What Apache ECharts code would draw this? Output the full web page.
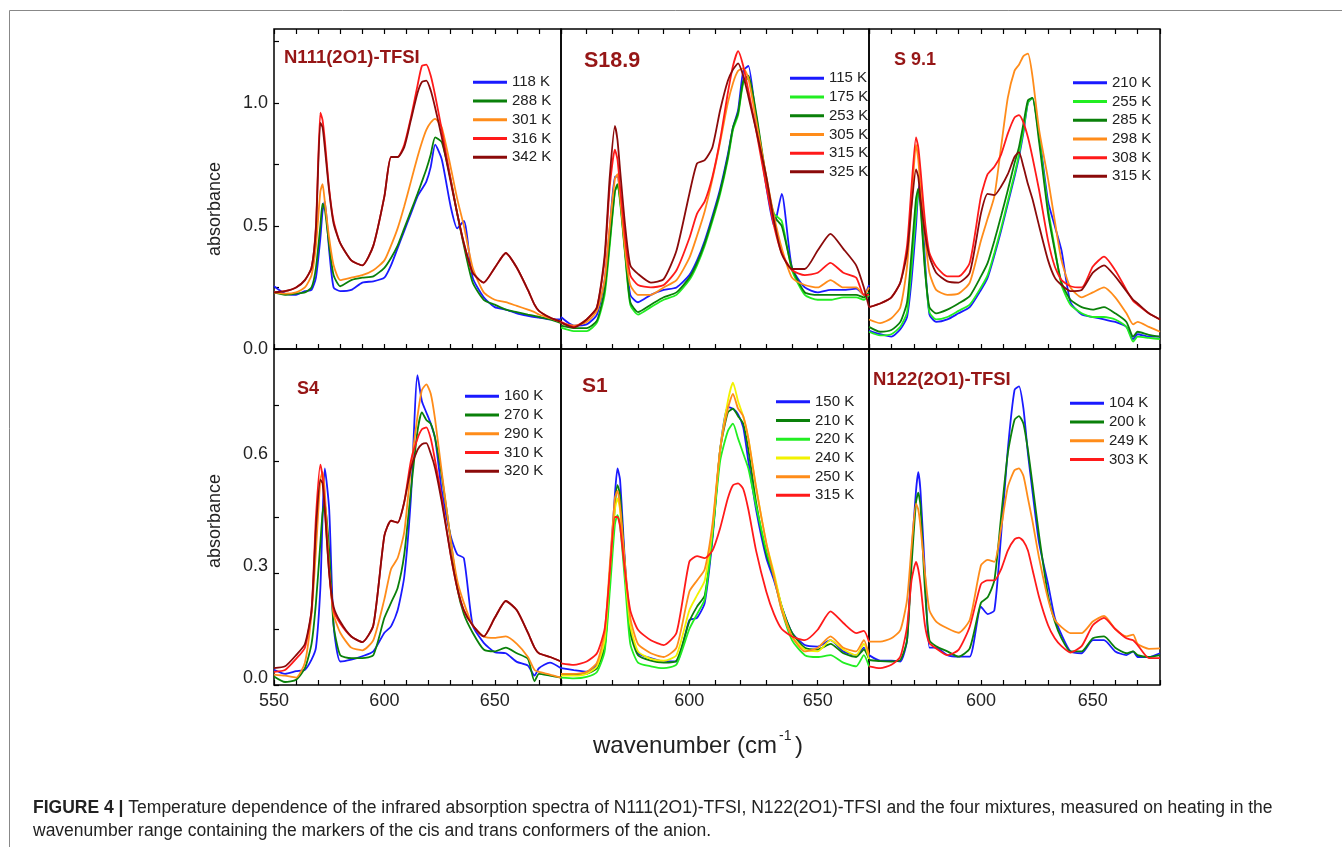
<!DOCTYPE html>
<html lang="en">
<head>
<meta charset="UTF-8">
<title>Figure 4 - IR absorption spectra</title>
<script src="https://cdn.jsdelivr.net/npm/echarts@6.0.0/dist/echarts.min.js"></script>
<style>
  html, body { margin: 0; padding: 0; background: #fff; }
  #main { width: 1342px; height: 847px; }
</style>
</head>
<body>
<div id="main"></div>
<script>
// wavenumber grid (cm-1), shared by all six panels
const wavenumber = [550, 555, 560, 564, 567, 569, 571, 572, 573, 575, 577, 580, 585, 590, 595, 600, 603, 606, 609, 612,
  615, 617, 619, 621, 623, 626, 630, 633, 636, 640, 645, 650, 655, 660, 665, 668, 670, 675, 680];

// N111(2O1)-TFSI
const n111Temps = ['118 K', '288 K', '301 K', '316 K', '342 K'];
const n111_118 = [0.255, 0.225, 0.22, 0.235, 0.24, 0.29, 0.45, 0.56, 0.60, 0.40, 0.25, 0.235, 0.24, 0.27, 0.275, 0.29, 0.34, 0.41, 0.48, 0.55,
  0.62, 0.65, 0.68, 0.74, 0.83, 0.77, 0.58, 0.49, 0.52, 0.29, 0.21, 0.17, 0.16, 0.145, 0.135, 0.13, 0.128, 0.12, 0.12];
const n111_288 = [0.23, 0.22, 0.225, 0.23, 0.25, 0.33, 0.50, 0.59, 0.57, 0.42, 0.30, 0.255, 0.28, 0.29, 0.295, 0.33, 0.37, 0.42, 0.49, 0.56,
  0.63, 0.68, 0.73, 0.79, 0.86, 0.84, 0.69, 0.55, 0.42, 0.27, 0.20, 0.18, 0.16, 0.15, 0.14, 0.135, 0.13, 0.12, 0.105];
const n111_301 = [0.23, 0.225, 0.23, 0.25, 0.30, 0.42, 0.64, 0.67, 0.60, 0.45, 0.34, 0.28, 0.29, 0.30, 0.32, 0.36, 0.42, 0.49, 0.58, 0.68,
  0.78, 0.84, 0.89, 0.92, 0.935, 0.90, 0.74, 0.61, 0.50, 0.33, 0.23, 0.20, 0.19, 0.175, 0.16, 0.15, 0.14, 0.125, 0.11];
const n111_316 = [0.23, 0.235, 0.25, 0.28, 0.33, 0.50, 0.96, 0.93, 0.85, 0.65, 0.52, 0.43, 0.36, 0.34, 0.42, 0.62, 0.78, 0.78, 0.83, 0.94,
  1.07, 1.15, 1.155, 1.11, 1.03, 0.89, 0.69, 0.55, 0.43, 0.31, 0.27, 0.33, 0.39, 0.33, 0.24, 0.18, 0.155, 0.128, 0.11];
const n111_342 = [0.23, 0.235, 0.25, 0.28, 0.33, 0.49, 0.92, 0.90, 0.82, 0.64, 0.51, 0.43, 0.36, 0.34, 0.42, 0.62, 0.78, 0.78, 0.82, 0.93,
  1.04, 1.085, 1.09, 1.05, 0.98, 0.86, 0.68, 0.55, 0.43, 0.31, 0.27, 0.33, 0.39, 0.33, 0.24, 0.18, 0.155, 0.128, 0.11];

// S18.9 (ends at 670)
const s189Temps = ['115 K', '175 K', '253 K', '305 K', '315 K', '325 K'];
const s189_115 = [0.13, 0.095, 0.10, 0.14, 0.28, 0.49, 0.70, 0.70, 0.63, 0.40, 0.22, 0.19, 0.22, 0.24, 0.25, 0.30, 0.36, 0.44, 0.54, 0.65,
  0.79, 0.90, 0.97, 1.13, 1.15, 0.93, 0.66, 0.50, 0.63, 0.33, 0.25, 0.23, 0.24, 0.24, 0.245, 0.22, 0.26, null, null];
const s189_175 = [0.087, 0.073, 0.073, 0.107, 0.22, 0.42, 0.64, 0.66, 0.60, 0.38, 0.18, 0.14, 0.17, 0.20, 0.22, 0.28, 0.34, 0.42, 0.52, 0.63,
  0.77, 0.89, 0.95, 1.08, 1.10, 0.95, 0.68, 0.55, 0.52, 0.32, 0.22, 0.20, 0.20, 0.21, 0.21, 0.20, 0.22, null, null];
const s189_253 = [0.095, 0.085, 0.085, 0.115, 0.24, 0.44, 0.64, 0.67, 0.61, 0.39, 0.19, 0.15, 0.18, 0.21, 0.23, 0.29, 0.35, 0.43, 0.53, 0.64,
  0.78, 0.90, 0.96, 1.09, 1.11, 0.96, 0.69, 0.54, 0.50, 0.33, 0.23, 0.22, 0.22, 0.22, 0.22, 0.21, 0.23, null, null];
const s189_305 = [0.105, 0.095, 0.11, 0.155, 0.28, 0.50, 0.69, 0.71, 0.62, 0.40, 0.26, 0.22, 0.22, 0.25, 0.28, 0.37, 0.46, 0.56, 0.69, 0.84,
  1.00, 1.08, 1.13, 1.14, 1.10, 0.93, 0.70, 0.54, 0.41, 0.29, 0.26, 0.25, 0.28, 0.25, 0.25, 0.22, 0.25, null, null];
const s189_315 = [0.11, 0.09, 0.12, 0.17, 0.36, 0.66, 0.81, 0.77, 0.66, 0.45, 0.30, 0.26, 0.25, 0.26, 0.32, 0.45, 0.55, 0.60, 0.70, 0.85,
  1.04, 1.15, 1.21, 1.15, 1.05, 0.89, 0.66, 0.50, 0.39, 0.32, 0.30, 0.31, 0.35, 0.31, 0.29, 0.22, 0.22, null, null];
const s189_325 = [0.107, 0.087, 0.12, 0.17, 0.38, 0.70, 0.906, 0.85, 0.73, 0.50, 0.34, 0.305, 0.27, 0.284, 0.40, 0.63, 0.754, 0.767, 0.82, 0.97,
  1.09, 1.135, 1.16, 1.11, 1.026, 0.89, 0.70, 0.52, 0.386, 0.325, 0.325, 0.40, 0.468, 0.407, 0.34, 0.25, 0.17, null, null];

// S 9.1
const s91Temps = ['210 K', '255 K', '285 K', '298 K', '308 K', '315 K'];
const s91_210 = [0.075, 0.06, 0.05, 0.08, 0.13, 0.28, 0.50, 0.64, 0.68, 0.36, 0.14, 0.11, 0.12, 0.145, 0.17, 0.24, 0.29, 0.38, 0.48, 0.59,
  0.70, 0.78, 0.88, 1.00, 1.02, 0.87, 0.60, 0.50, 0.40, 0.19, 0.14, 0.13, 0.12, 0.11, 0.09, 0.04, 0.06, 0.05, 0.05];
const s91_255 = [0.07, 0.055, 0.06, 0.09, 0.15, 0.33, 0.55, 0.64, 0.60, 0.33, 0.15, 0.12, 0.13, 0.155, 0.18, 0.25, 0.30, 0.39, 0.49, 0.60,
  0.71, 0.79, 0.89, 1.00, 1.02, 0.86, 0.57, 0.41, 0.26, 0.18, 0.145, 0.13, 0.13, 0.12, 0.09, 0.03, 0.05, 0.045, 0.04];
const s91_285 = [0.09, 0.07, 0.077, 0.11, 0.19, 0.39, 0.61, 0.65, 0.58, 0.32, 0.17, 0.145, 0.16, 0.185, 0.215, 0.295, 0.35, 0.44, 0.54, 0.645,
  0.755, 0.82, 0.915, 1.01, 1.02, 0.84, 0.55, 0.40, 0.27, 0.20, 0.17, 0.16, 0.17, 0.145, 0.11, 0.05, 0.07, 0.057, 0.05];
const s91_298 = [0.12, 0.105, 0.125, 0.17, 0.335, 0.59, 0.83, 0.77, 0.66, 0.46, 0.31, 0.24, 0.22, 0.225, 0.27, 0.44, 0.53, 0.62, 0.82, 1.02,
  1.13, 1.155, 1.19, 1.20, 1.11, 0.89, 0.69, 0.52, 0.36, 0.25, 0.21, 0.23, 0.25, 0.21, 0.145, 0.10, 0.11, 0.09, 0.07];
const s91_308 = [0.17, 0.185, 0.21, 0.27, 0.42, 0.66, 0.86, 0.82, 0.73, 0.52, 0.39, 0.335, 0.295, 0.295, 0.35, 0.62, 0.71, 0.74, 0.79, 0.875,
  0.94, 0.95, 0.92, 0.86, 0.78, 0.645, 0.44, 0.335, 0.28, 0.255, 0.25, 0.335, 0.375, 0.32, 0.24, 0.195, 0.18, 0.145, 0.12];
const s91_315 = [0.17, 0.185, 0.21, 0.27, 0.39, 0.58, 0.73, 0.70, 0.61, 0.47, 0.375, 0.31, 0.275, 0.27, 0.31, 0.55, 0.63, 0.625, 0.66, 0.71,
  0.78, 0.80, 0.74, 0.67, 0.61, 0.50, 0.36, 0.29, 0.26, 0.235, 0.24, 0.31, 0.34, 0.295, 0.235, 0.20, 0.185, 0.145, 0.12];

// S4
const s4Temps = ['160 K', '270 K', '290 K', '310 K', '320 K'];
const s4_160 = [0.041, 0.03, 0.037, 0.041, 0.068, 0.10, 0.26, 0.45, 0.58, 0.47, 0.16, 0.063, 0.068, 0.077, 0.09, 0.14, 0.157, 0.20, 0.29, 0.50,
  0.83, 0.76, 0.73, 0.70, 0.66, 0.52, 0.40, 0.35, 0.34, 0.16, 0.113, 0.088, 0.085, 0.062, 0.052, 0.025, 0.045, 0.06, 0.045];
const s4_270 = [0.023, 0.008, 0.014, 0.045, 0.11, 0.22, 0.38, 0.46, 0.49, 0.36, 0.16, 0.08, 0.072, 0.072, 0.08, 0.18, 0.22, 0.26, 0.35, 0.52,
  0.68, 0.73, 0.71, 0.70, 0.66, 0.56, 0.39, 0.26, 0.19, 0.14, 0.095, 0.09, 0.10, 0.085, 0.07, 0.01, 0.03, 0.025, 0.02];
const s4_290 = [0.028, 0.025, 0.02, 0.06, 0.19, 0.36, 0.55, 0.57, 0.52, 0.31, 0.19, 0.14, 0.10, 0.093, 0.12, 0.23, 0.31, 0.34, 0.41, 0.58,
  0.72, 0.79, 0.805, 0.78, 0.71, 0.57, 0.39, 0.28, 0.22, 0.16, 0.13, 0.126, 0.13, 0.11, 0.075, 0.04, 0.035, 0.028, 0.02];
const s4_310 = [0.035, 0.04, 0.07, 0.10, 0.20, 0.45, 0.59, 0.56, 0.48, 0.30, 0.20, 0.165, 0.13, 0.115, 0.16, 0.40, 0.44, 0.435, 0.49, 0.60,
  0.66, 0.685, 0.69, 0.66, 0.60, 0.50, 0.35, 0.26, 0.20, 0.16, 0.13, 0.18, 0.225, 0.20, 0.14, 0.10, 0.085, 0.075, 0.063];
const s4_320 = [0.045, 0.05, 0.08, 0.11, 0.20, 0.42, 0.55, 0.54, 0.47, 0.30, 0.21, 0.17, 0.13, 0.115, 0.16, 0.40, 0.44, 0.435, 0.49, 0.58,
  0.63, 0.645, 0.648, 0.62, 0.58, 0.49, 0.35, 0.26, 0.20, 0.16, 0.13, 0.18, 0.225, 0.20, 0.14, 0.10, 0.085, 0.075, 0.063];

// S1 (ends at 670)
const s1Temps = ['150 K', '210 K', '220 K', '240 K', '250 K', '315 K'];
const s1_150 = [0.045, 0.04, 0.036, 0.054, 0.10, 0.30, 0.51, 0.58, 0.55, 0.32, 0.15, 0.085, 0.072, 0.063, 0.063, 0.174, 0.18, 0.22, 0.39, 0.63,
  0.745, 0.74, 0.725, 0.69, 0.60, 0.47, 0.34, 0.28, 0.21, 0.14, 0.107, 0.103, 0.12, 0.09, 0.08, 0.10, 0.072, null, null];
const s1_210 = [0.03, 0.028, 0.03, 0.045, 0.10, 0.28, 0.48, 0.535, 0.51, 0.31, 0.14, 0.08, 0.065, 0.06, 0.065, 0.17, 0.21, 0.24, 0.40, 0.63,
  0.73, 0.74, 0.72, 0.70, 0.63, 0.49, 0.35, 0.29, 0.21, 0.14, 0.10, 0.095, 0.11, 0.085, 0.075, 0.095, 0.07, null, null];
const s1_220 = [0.02, 0.018, 0.022, 0.035, 0.09, 0.25, 0.43, 0.455, 0.43, 0.27, 0.11, 0.06, 0.05, 0.045, 0.055, 0.15, 0.19, 0.23, 0.40, 0.60,
  0.68, 0.70, 0.66, 0.62, 0.58, 0.48, 0.36, 0.29, 0.20, 0.12, 0.08, 0.075, 0.08, 0.06, 0.05, 0.08, 0.05, null, null];
const s1_240 = [0.025, 0.025, 0.03, 0.05, 0.12, 0.30, 0.47, 0.50, 0.47, 0.30, 0.16, 0.09, 0.07, 0.065, 0.08, 0.20, 0.24, 0.28, 0.42, 0.63,
  0.76, 0.81, 0.76, 0.72, 0.66, 0.53, 0.38, 0.30, 0.21, 0.13, 0.095, 0.09, 0.12, 0.095, 0.08, 0.11, 0.07, null, null];
const s1_250 = [0.03, 0.03, 0.035, 0.06, 0.14, 0.32, 0.50, 0.52, 0.48, 0.32, 0.18, 0.11, 0.085, 0.075, 0.10, 0.25, 0.28, 0.31, 0.43, 0.63,
  0.74, 0.78, 0.74, 0.72, 0.66, 0.53, 0.38, 0.29, 0.20, 0.13, 0.09, 0.10, 0.13, 0.10, 0.09, 0.12, 0.08, null, null];
const s1_315 = [0.058, 0.054, 0.063, 0.085, 0.15, 0.30, 0.45, 0.45, 0.425, 0.30, 0.20, 0.148, 0.12, 0.107, 0.14, 0.33, 0.345, 0.34, 0.36, 0.42,
  0.50, 0.535, 0.54, 0.525, 0.47, 0.36, 0.25, 0.19, 0.15, 0.13, 0.12, 0.148, 0.197, 0.166, 0.139, 0.145, 0.116, null, null];

// N122(2O1)-TFSI
const n122Temps = ['104 K', '200 k', '249 K', '303 K'];
const n122_104 = [0.08, 0.065, 0.065, 0.063, 0.12, 0.35, 0.52, 0.57, 0.52, 0.30, 0.10, 0.10, 0.08, 0.076, 0.076, 0.21, 0.19, 0.20, 0.40, 0.63,
  0.79, 0.80, 0.74, 0.62, 0.52, 0.38, 0.27, 0.18, 0.135, 0.09, 0.085, 0.12, 0.12, 0.09, 0.08, 0.09, 0.075, 0.075, 0.085];
const n122_200 = [0.067, 0.064, 0.063, 0.067, 0.12, 0.32, 0.49, 0.515, 0.48, 0.255, 0.12, 0.104, 0.09, 0.076, 0.098, 0.22, 0.235, 0.28, 0.45, 0.62,
  0.71, 0.72, 0.70, 0.63, 0.54, 0.40, 0.24, 0.17, 0.125, 0.09, 0.09, 0.125, 0.13, 0.10, 0.085, 0.09, 0.08, 0.075, 0.08];
const n122_249 = [0.116, 0.116, 0.125, 0.147, 0.228, 0.37, 0.486, 0.47, 0.425, 0.30, 0.20, 0.17, 0.152, 0.14, 0.174, 0.32, 0.335, 0.33, 0.42, 0.53,
  0.575, 0.58, 0.56, 0.50, 0.44, 0.34, 0.23, 0.175, 0.155, 0.139, 0.139, 0.17, 0.185, 0.15, 0.13, 0.135, 0.11, 0.097, 0.098];
const n122_303 = [0.05, 0.045, 0.054, 0.076, 0.156, 0.28, 0.33, 0.31, 0.27, 0.16, 0.112, 0.098, 0.08, 0.094, 0.156, 0.27, 0.28, 0.28, 0.31, 0.36,
  0.39, 0.395, 0.385, 0.36, 0.31, 0.235, 0.16, 0.125, 0.104, 0.087, 0.104, 0.16, 0.18, 0.15, 0.125, 0.12, 0.107, 0.072, 0.072];

const panelTitles = ['N111(2O1)-TFSI', 'S18.9', 'S 9.1', 'S4', 'S1', 'N122(2O1)-TFSI'];

const BLUE = '#1a1aff', GREEN = '#0a800a', LIME = '#22ee22', ORANGE = '#ff8c1a',
      RED = '#ff1a1a', DARKRED = '#8b0a0a', YELLOW = '#f2f200';
const FONT = '"Liberation Sans", Arial, Helvetica, sans-serif';
const TITLE_RED = '#961616';

const panels = [
  { temps: n111Temps, colors: [BLUE, GREEN, ORANGE, RED, DARKRED], values: [n111_118, n111_288, n111_301, n111_316, n111_342] },
  { temps: s189Temps, colors: [BLUE, LIME, GREEN, ORANGE, RED, DARKRED], values: [s189_115, s189_175, s189_253, s189_305, s189_315, s189_325] },
  { temps: s91Temps, colors: [BLUE, LIME, GREEN, ORANGE, RED, DARKRED], values: [s91_210, s91_255, s91_285, s91_298, s91_308, s91_315] },
  { temps: s4Temps, colors: [BLUE, GREEN, ORANGE, RED, DARKRED], values: [s4_160, s4_270, s4_290, s4_310, s4_320] },
  { temps: s1Temps, colors: [BLUE, GREEN, LIME, YELLOW, ORANGE, RED], values: [s1_150, s1_210, s1_220, s1_240, s1_250, s1_315] },
  { temps: n122Temps, colors: [BLUE, GREEN, ORANGE, RED], values: [n122_104, n122_200, n122_249, n122_303] }
];

// layout
const boxes = [
  { left: 274, top: 29, width: 287, height: 320 },
  { left: 561, top: 29, width: 308, height: 320 },
  { left: 869, top: 29, width: 291, height: 320 },
  { left: 274, top: 349, width: 287, height: 336 },
  { left: 561, top: 349, width: 308, height: 336 },
  { left: 869, top: 349, width: 291, height: 336 }
];
const xMax = [680, 670, 680, 680, 670, 680];
const legendPos = [[473, 73], [790, 69], [1073, 73.5], [465, 387], [776, 392.5], [1070, 394]];
const titlePos = [[284, 57.5, 18.5], [584, 61.5, 21.5], [894, 60, 18], [297, 389, 18], [582, 386, 21], [873, 379.5, 18.5]];

const tick = { show: true, inside: true, length: 5, lineStyle: { color: '#000', width: 1.2 } };
const near = (v, step) => Math.abs(v / step - Math.round(v / step)) < 1e-6;

const grid = boxes.map(b => Object.assign({ show: true, borderColor: '#000', borderWidth: 1.5, containLabel: false }, b));

const xAxis = [];
boxes.forEach((b, i) => {
  const bottomRow = i >= 3;
  xAxis.push({
    type: 'value', gridIndex: i, min: 550, max: xMax[i], interval: 10, position: 'bottom',
    axisLine: { show: false }, axisTick: tick, splitLine: { show: false },
    axisLabel: {
      show: bottomRow, margin: 7, color: '#222', fontSize: 18, fontFamily: FONT,
      formatter: v => (near(v, 50) && !(i > 3 && v === 550)) ? String(v) : ''
    }
  });
});
[0, 1, 2].forEach(i => {
  xAxis.push({
    type: 'value', gridIndex: i, min: 550, max: xMax[i], interval: 10, position: 'top',
    axisLine: { show: false }, axisTick: tick, axisLabel: { show: false }, splitLine: { show: false }
  });
});

const yAxis = boxes.map((b, i) => {
  const top = i < 3;
  const step = top ? 0.5 : 0.3;
  const label = {
    margin: 6, color: '#222', fontSize: 18, fontFamily: FONT, showMaxLabel: false,
    formatter: v => near(v, step) ? v.toFixed(1) : ''
  };
  // bottom-row labels sit a few pixels above their ticks in the original
  if (!top) { label.verticalAlign = 'bottom'; label.lineHeight = 13; }
  return {
    type: 'value', gridIndex: i, min: 0, max: top ? 1.3 : 0.9, interval: top ? 0.25 : 0.15,
    show: i === 0 || i === 3,
    axisLine: { show: false }, axisTick: tick, splitLine: { show: false },
    axisLabel: label
  };
});

const series = [];
const legend = [];
panels.forEach((p, i) => {
  const names = p.temps.map(t => t + '#' + i);
  p.values.forEach((vals, k) => {
    series.push({
      type: 'line', name: names[k], xAxisIndex: i, yAxisIndex: i,
      data: wavenumber.map((w, j) => [w, vals[j]]),
      showSymbol: false, symbol: 'none', smooth: 0.2,
      lineStyle: { color: p.colors[k], width: 1.8 },
      itemStyle: { color: p.colors[k] },
      emphasis: { disabled: true }
    });
  });
  legend.push({
    orient: 'vertical', left: legendPos[i][0], top: legendPos[i][1], padding: 0,
    itemWidth: 34, itemHeight: 3, itemGap: 0, icon: 'rect', selectedMode: false,
    data: names, formatter: n => n.split('#')[0],
    textStyle: { fontSize: 15, lineHeight: 18.7, color: '#222', fontFamily: FONT }
  });
});

const graphic = [
  { type: 'line', shape: { x1: 9.5, y1: 10.5, x2: 1342, y2: 10.5 }, style: { stroke: '#888', lineWidth: 1 } },
  { type: 'line', shape: { x1: 9.5, y1: 10.5, x2: 9.5, y2: 847 }, style: { stroke: '#888', lineWidth: 1 } },
  { type: 'text', x: 215, y: 209, rotation: Math.PI / 2,
    style: { text: 'absorbance', fontSize: 18, fontFamily: FONT, fill: '#222', align: 'center', verticalAlign: 'middle' } },
  { type: 'text', x: 215, y: 521, rotation: Math.PI / 2,
    style: { text: 'absorbance', fontSize: 18, fontFamily: FONT, fill: '#222', align: 'center', verticalAlign: 'middle' } },
  { type: 'text', x: 593, y: 746,
    style: { text: 'wavenumber (cm', fontSize: 24, fontFamily: FONT, fill: '#222', align: 'left', verticalAlign: 'middle' } },
  { type: 'text', x: 779, y: 736,
    style: { text: '-1', fontSize: 14, fontFamily: FONT, fill: '#222', align: 'left', verticalAlign: 'middle' } },
  { type: 'text', x: 795, y: 746,
    style: { text: ')', fontSize: 24, fontFamily: FONT, fill: '#222', align: 'left', verticalAlign: 'middle' } },
  { type: 'text', x: 33, y: 796.5,
    style: {
      text: '{b|FIGURE 4 |} Temperature dependence of the infrared absorption spectra of N111(2O1)-TFSI, N122(2O1)-TFSI and the four mixtures, measured on heating in the\nwavenumber range containing the markers of the cis and trans conformers of the anion.',
      fontSize: 17.5, fontFamily: FONT, fill: '#222', lineHeight: 23, align: 'left', verticalAlign: 'top',
      rich: { b: { fontSize: 17.5, fontFamily: FONT, fontWeight: 'bold', fill: '#222', lineHeight: 23 } }
    } }
];
panelTitles.forEach((t, i) => {
  graphic.push({ type: 'text', x: titlePos[i][0], y: titlePos[i][1],
    style: { text: t, font: 'bold ' + titlePos[i][2] + 'px ' + FONT, fill: TITLE_RED, align: 'left', verticalAlign: 'middle' } });
});

const chart = echarts.init(document.getElementById('main'));
chart.setOption({
  animation: false,
  backgroundColor: '#fff',
  grid, xAxis, yAxis, series, legend, graphic
});
</script>
</body>
</html>
